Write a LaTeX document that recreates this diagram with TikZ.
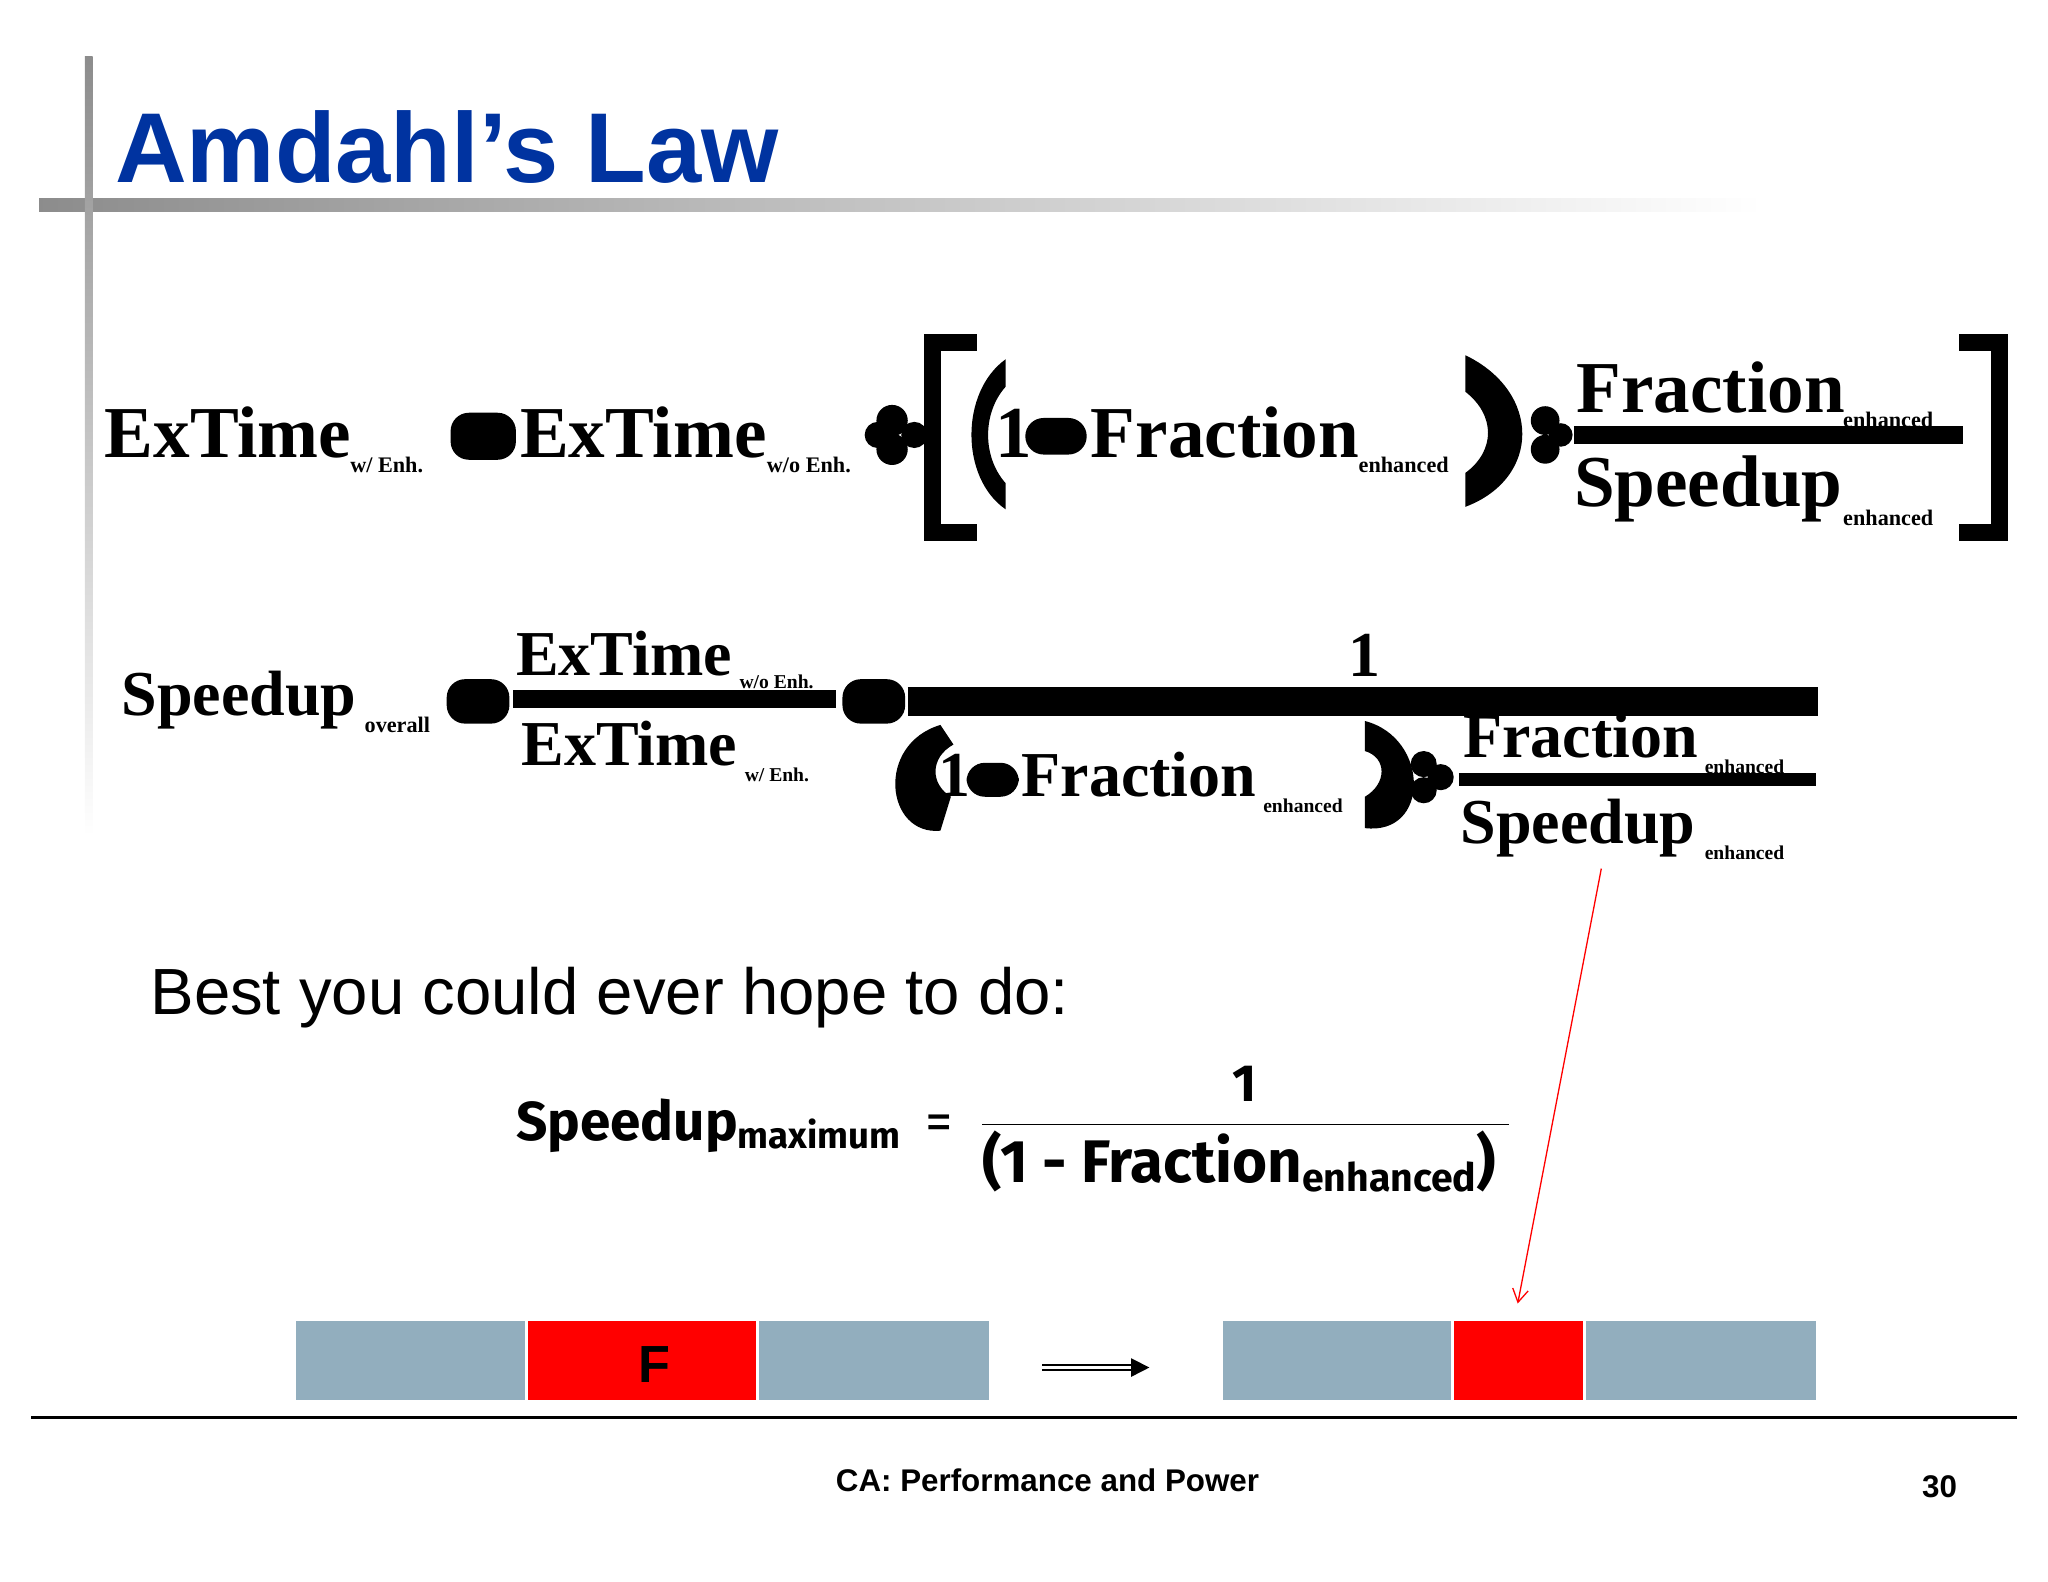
\documentclass[tikz,border=0pt]{standalone}
\usepackage{fontspec}
\usetikzlibrary{arrows.meta}
\setmainfont{Liberation Serif}
\newfontfamily\arial{Liberation Sans}
\newfontfamily\fira{Fira Sans}
\begin{document}
\begin{tikzpicture}[x=1pt,y=-1pt,
  big/.style={font=\fontsize{56}{60}\selectfont\bfseries,anchor=base west,inner sep=0},
  mid/.style={font=\fontsize{49}{53}\selectfont\bfseries,anchor=base west,inner sep=0},
  sub/.style={font=\fontsize{17}{19}\selectfont\bfseries,anchor=base west,inner sep=0},
  blob/.style={fill=black,rounded corners=14pt},
  fl/.style={line width=14pt}]
\useasboundingbox (0,0) rectangle (1568,1211);
% decorations
\shade[left color=gray!90,right color=white] (30,152) rectangle (1350,162);
\shade[top color=gray!90,bottom color=white] (65,43) rectangle (71,640);
\node[font=\arial\bfseries\fontsize{76}{80}\selectfont,anchor=base west,inner sep=0,text={rgb,255:red,0;green,51;blue,160}] (title) at (88,140) {Amdahl’s Law};
% Row 1
\node[big] (a1) at (80,350) {ExTime};
\node[sub] (a1s) at (268,362) {w/ Enh.};
\fill[blob] (345,316) rectangle (395,352);
\node[big] (a2) at (398,350) {ExTime};
\node[sub] (a2s) at (587,362) {w/o Enh.};
\fill (683,322) circle (12); \fill (683,344) circle (12); \fill (672,333) circle (10); \fill (700,333) circle (10);
\draw[line width=13pt] (748,262) -- (714,262) -- (714,408) -- (748,408);
\fill (770,275) .. controls (735,300) and (735,366) .. (770,390) -- (770,370) .. controls (752,350) and (752,316) .. (770,296) -- cycle;
\node[big] (one1) at (762,350) {1};
\fill[blob] (785,320) rectangle (832,348);
\node[big] (a3) at (835,350) {Fraction};
\node[sub] (a3s) at (1040,362) {enhanced};
\fill (1122,272) .. controls (1180,300) and (1180,366) .. (1122,388) -- (1122,362) .. controls (1145,345) and (1145,318) .. (1122,300) -- cycle;
\fill (1183,322) circle (11); \fill (1183,344) circle (11); \fill (1195,333) circle (9);
\node[big] (a4) at (1207,316) {Fraction};
\node[sub] (a4s) at (1411,327) {enhanced};
\draw[fl] (1205,333) -- (1503,333);
\node[big] (a5) at (1205,388) {Speedup};
\node[sub] (a5s) at (1411,402) {enhanced};
\draw[line width=13pt] (1500,262) -- (1531,262) -- (1531,408) -- (1500,408);
% Row 2
\node[mid] (b1) at (93,548) {Speedup};
\node[sub] (b1s) at (279,561) {overall};
\fill[blob] (342,520) rectangle (390,554);
\node[mid] (b2) at (395,517) {ExTime};
\node[sub,font=\fontsize{15}{17}\selectfont\bfseries] (b2s) at (566,527) {w/o Enh.};
\draw[fl] (393,535) -- (640,535);
\node[mid] (b3) at (399,586) {ExTime};
\node[sub,font=\fontsize{15}{17}\selectfont\bfseries] (b3s) at (570,598) {w/ Enh.};
\fill[blob] (645,520) rectangle (693,554);
\node[mid] (one2) at (1032,518) {1};
\draw[line width=22pt] (695,537) -- (1392,537);
\fill (720,555) .. controls (670,570) and (678,640) .. (720,636) -- (728,610) .. controls (712,600) and (712,580) .. (730,570) -- cycle;
\node[mid] (one3) at (718,610) {1};
\fill[blob] (740,584) rectangle (780,610);
\node[mid] (b4) at (782,610) {Fraction};
\node[sub,font=\fontsize{15}{17}\selectfont\bfseries] (b4s) at (967,622) {enhanced};
\fill (1045,552) .. controls (1095,565) and (1095,640) .. (1045,634) -- (1045,610) .. controls (1062,600) and (1062,580) .. (1045,575) -- cycle;
\fill (1090,585) circle (10); \fill (1090,605) circle (10); \fill (1103,595) circle (10);
\node[mid] (b5) at (1120,580) {Fraction};
\node[sub,font=\fontsize{15}{17}\selectfont\bfseries] (b5s) at (1305,592) {enhanced};
\draw[line width=10pt] (1117,597) -- (1390,597);
\node[mid] (b6) at (1118,646) {Speedup};
\node[sub,font=\fontsize{15}{17}\selectfont\bfseries] (b6s) at (1305,658) {enhanced};
% Best
\node[font=\arial\fontsize{50}{54}\selectfont,anchor=base west,inner sep=0] (best) at (115,777) {Best you could ever hope to do:};
\node[font=\fira\bfseries\fontsize{42}{46}\selectfont,anchor=base west,inner sep=0] (sm) at (395,873) {Speedup\raisebox{-6pt}{\fontsize{28}{30}\selectfont maximum}};
\node[font=\fira\fontsize{42}{46}\selectfont,anchor=base west,inner sep=0] (eq) at (708,873) {=};
\node[font=\fira\bfseries\fontsize{40}{44}\selectfont,anchor=base,inner sep=0] (n1) at (953,843) {1};
\draw[line width=1pt] (752,861) -- (1155,861);
\node[font=\fira\bfseries\fontsize{46}{50}\selectfont,anchor=base west,inner sep=0] (den) at (752,905) {(1 - Fraction\raisebox{-7pt}{\fontsize{30}{32}\selectfont enhanced})};
% bars
\coordinate (arrS) at (1226,665);
\coordinate (arrE) at (1162,998);
\draw[red,line width=1pt,-{Straight Barb[length=10pt,width=12pt]}] (arrS) -- (arrE);
\definecolor{bg}{RGB}{146,174,190}
\fill[bg] (227,1011) rectangle (402,1072);
\fill[red] (404,1011) rectangle (579,1072);
\node[font=\arial\bfseries\fontsize{40}{44}\selectfont,inner sep=0] (F) at (501,1045) {F};
\fill[bg] (581,1011) rectangle (757,1072);
\fill[bg] (936,1011) rectangle (1111,1072);
\fill[red] (1113,1011) rectangle (1212,1072);
\fill[bg] (1214,1011) rectangle (1390,1072);
\coordinate (da) at (798,1047); \coordinate (db) at (880,1047);
\draw[double,double distance=3pt,line width=1.2pt,-{Triangle[length=14pt,width=14pt]}] (da) -- (db);
\draw[line width=2.5pt] (24,1085) -- (1544,1085);
\node[font=\arial\bfseries\fontsize{24}{28}\selectfont,inner sep=0] (foot) at (802,1133) {CA: Performance and Power};
\node[font=\arial\bfseries\fontsize{24}{28}\selectfont,inner sep=0] (pg) at (1485,1138) {30};
\end{tikzpicture}
\end{document}
